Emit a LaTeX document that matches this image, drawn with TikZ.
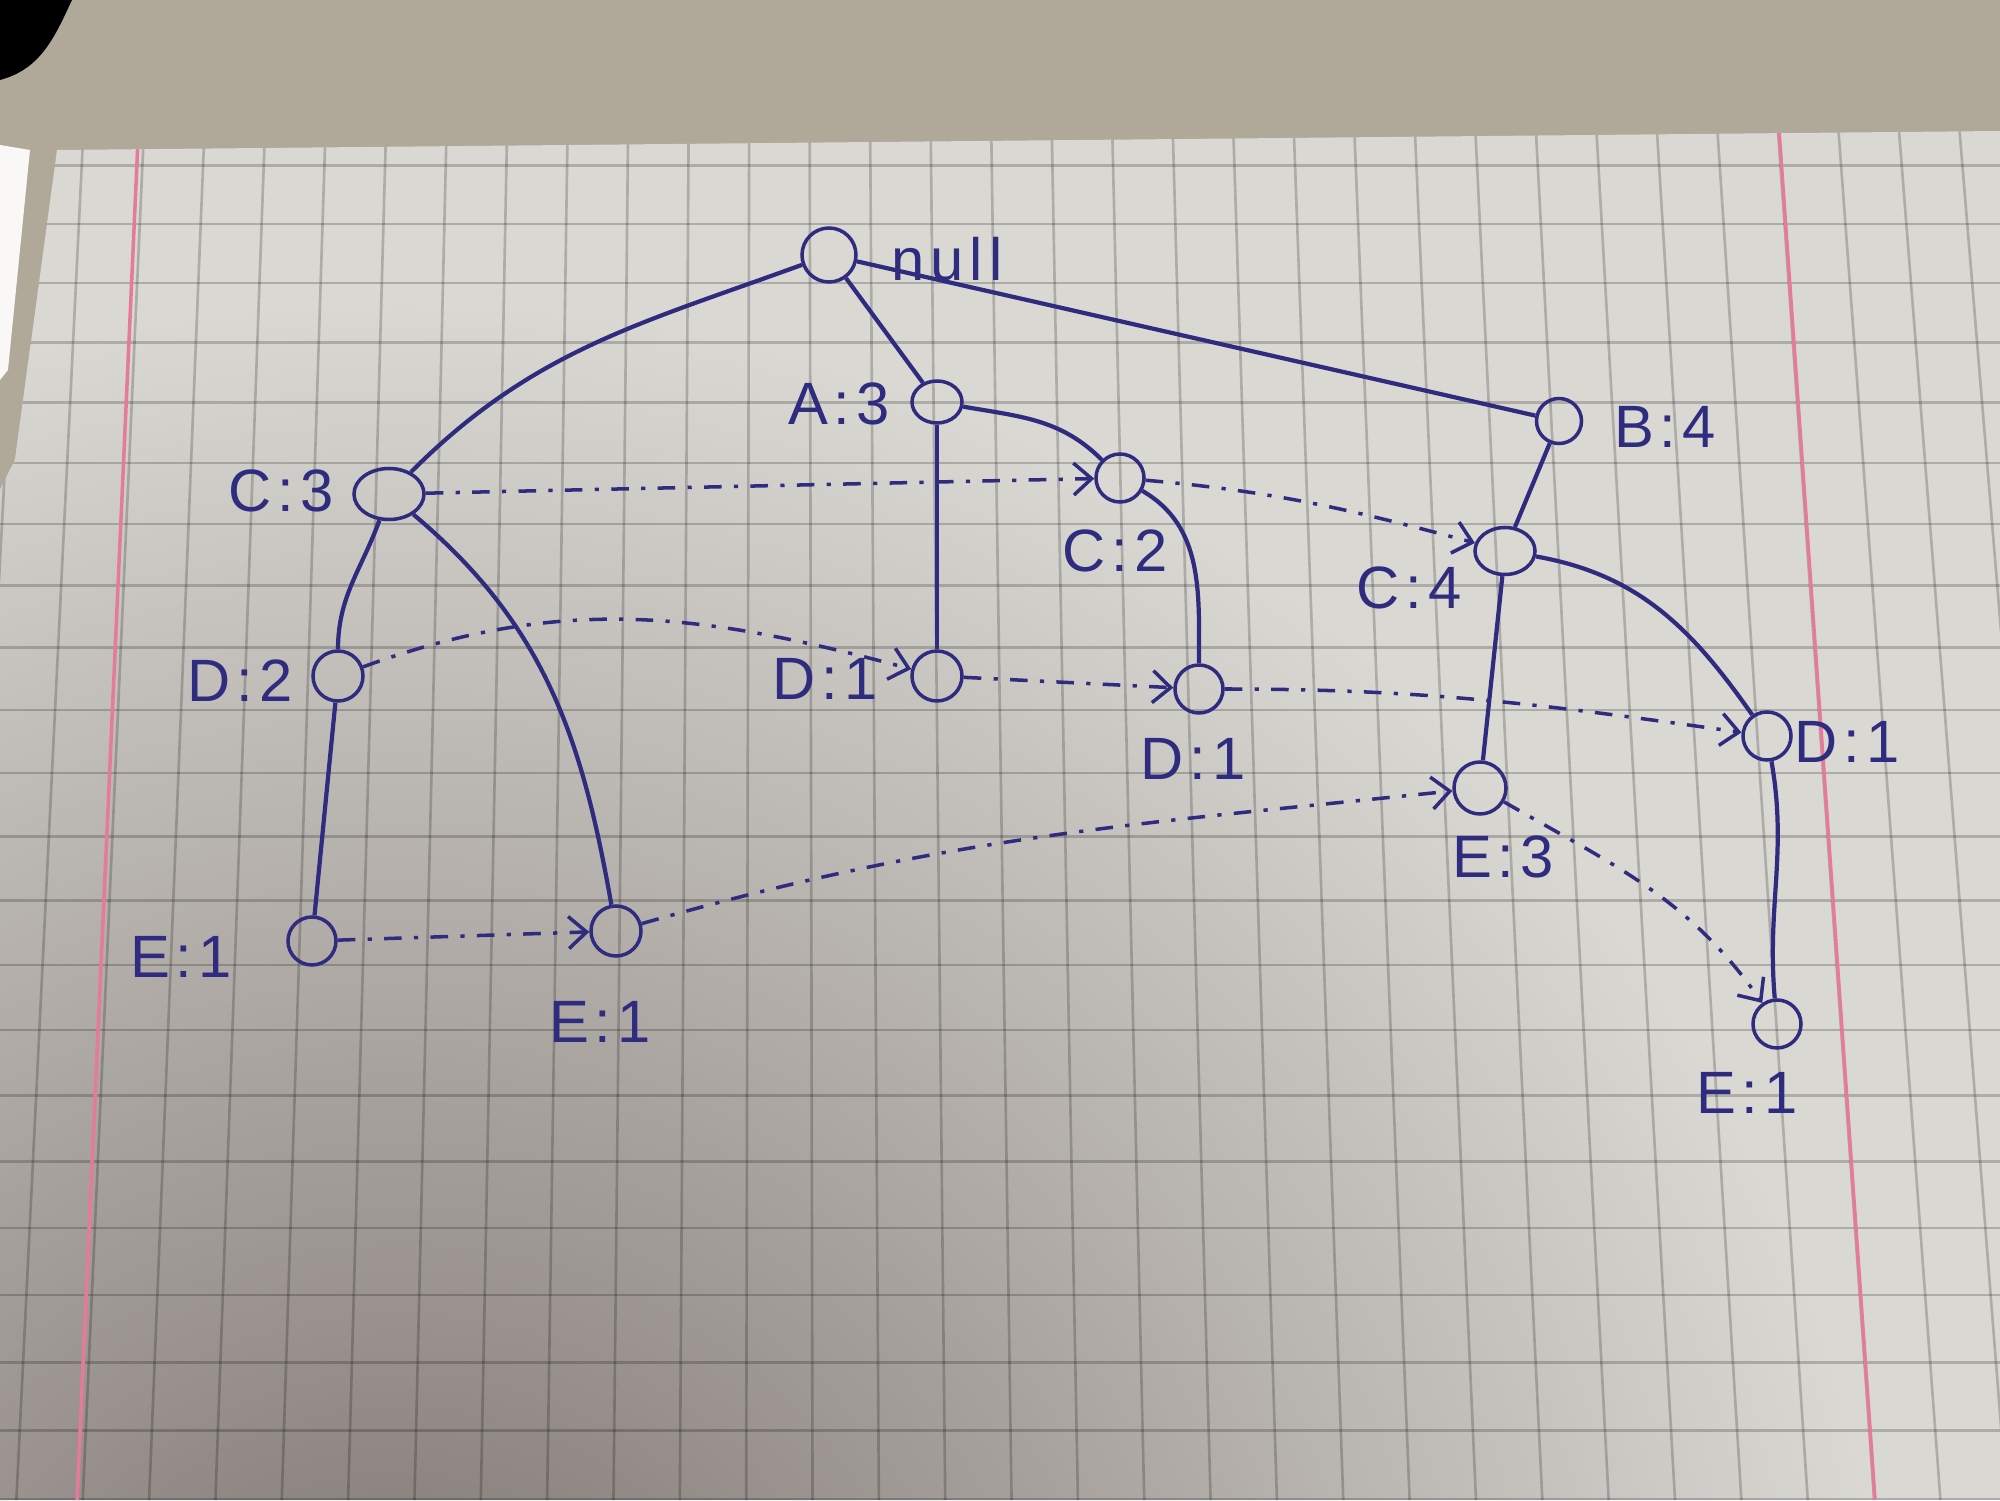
\documentclass[tikz,border=0pt]{standalone}
\usepackage{fontspec}
\newfontfamily\hand[LetterSpace=10]{Liberation Sans}
\usetikzlibrary{arrows.meta,shapes.geometric}
\definecolor{ink}{HTML}{2F2B7E}
\definecolor{paper}{HTML}{D9D8D3}
\definecolor{desk}{HTML}{B0A899}
\definecolor{shadow}{HTML}{7A706D}
\definecolor{margin}{HTML}{E67A9A}

\begin{document}
\begin{tikzpicture}[
				>={Straight Barb[length=1.8mm,width=3.2mm]},
				knot/.style={draw=ink, line width=1pt, circle, inner sep=0pt, minimum size=0.5cm},
				oval/.style={draw=ink, line width=1pt, ellipse, inner sep=0pt},
				lbl/.style={text=ink, inner sep=0pt, font=\hand\fontsize{17}{19}\selectfont},
				branch/.style={draw=ink, line width=1.2pt},
				nodelink/.style={draw=ink, line width=1pt, ->, dash pattern=on 5pt off 3.5pt on 1.2pt off 3.5pt}, % nét gạch chấm nối các nút cùng mục
				gridln/.style={draw=black, opacity=.2, line width=.75pt}
				]
				\useasboundingbox (0,0) rectangle (20,15);
				% nền bàn và giấy kẻ ô
				\fill[desk] (0,0) rectangle (20,15);
				\fill[black] (0,15) -- (0.72,15) to[out=-115,in=15] (0,14.2) -- cycle;
				\fill[white!92!desk] (0,13.55) -- (0.3,13.5) -- (0.08,11.3) -- (0,11.2) -- cycle;
				\begin{scope}
					\clip (0.57,13.5) -- (20,13.69) -- (20,0) -- (0,0) -- (0,10.1) -- (0.15,10.4) -- cycle;
					\fill[paper] (0,0) rectangle (20,15);
					\shade[inner color=shadow, outer color=paper] (4,-3) circle (15); % bóng tối góc dưới trái
					\foreach \j in {0,...,34} {
						\pgfmathsetmacro\xr{-0.468+0.612*\j}
						\draw[gridln] ({\xr-(\xr-7.8)*0.0112},13.7) -- ({\xr+(\xr-7.8)*0.0841},0);
					}
					\foreach \k in {0,...,23} {
						\pgfmathsetmacro\yy{13.3455-0.5825*\k-0.0025*\k*\k}
						\draw[gridln] (0,\yy) -- (20,\yy);
					}
					\draw[margin, line width=1pt] (1.38,13.6) -- (0.77,0);
					\draw[margin, line width=1pt] (17.79,13.7) -- (18.75,0);
				\end{scope}

				% các nút của cây
				\node[knot, minimum size=0.54cm] (nul) at (8.29,12.45) {};
				\node[oval, minimum width=0.5cm, minimum height=0.42cm] (a3) at (9.37,10.98) {};
				\node[knot, minimum size=0.45cm] (b4) at (15.59,10.79) {};
				\node[oval, minimum width=0.7cm, minimum height=0.51cm] (c3) at (3.89,10.06) {};
				\node[knot, minimum size=0.48cm] (c2) at (11.20,10.22) {};
				\node[oval, minimum width=0.6cm, minimum height=0.47cm] (c4) at (15.05,9.49) {};
				\node[knot] (d2) at (3.38,8.24) {};
				\node[knot] (d1a) at (9.37,8.24) {};
				\node[knot, minimum size=0.48cm] (d1b) at (11.99,8.11) {};
				\node[knot, minimum size=0.48cm] (d1c) at (17.67,7.64) {};
				\node[knot, minimum size=0.52cm] (e3) at (14.80,7.12) {};
				\node[knot, minimum size=0.48cm] (e1a) at (3.12,5.59) {};
				\node[knot] (e1b) at (6.16,5.69) {};
				\node[knot, minimum size=0.48cm] (e1c) at (17.77,4.76) {};

				\node[lbl] (lnul) at (9.47,12.41) {null};
				\node[lbl] (la3) at (8.39,10.96) {A:3};
				\node[lbl] (lb4) at (16.65,10.73) {B:4};
				\node[lbl] (lc3) at (2.81,10.09) {C:3};
				\node[lbl] (lc2) at (11.15,9.49) {C:2};
				\node[lbl] (lc4) at (14.09,9.12) {C:4};
				\node[lbl] (ld2) at (2.40,8.19) {D:2};
				\node[lbl] (ld1a) at (8.25,8.21) {D:1};
				\node[lbl] (ld1b) at (11.93,7.41) {D:1};
				\node[lbl] (ld1c) at (18.47,7.58) {D:1};
				\node[lbl] (le3) at (15.03,6.43) {E:3};
				\node[lbl] (le1a) at (1.81,5.43) {E:1};
				\node[lbl] (le1b) at (6.00,4.78) {E:1};
				\node[lbl] (le1c) at (17.47,4.07) {E:1};

				% cạnh cha - con
				\draw[branch] (nul) to[out=200,in=45] (c3);
				\draw[branch] (nul) -- (a3);
				\draw[branch] (nul) -- (b4);
				\draw[branch] (a3) to[out=-10,in=135] (c2);
				\draw[branch] (a3) -- (d1a);
				\draw[branch] (c2) to[out=-30,in=90] (d1b);
				\draw[branch] (b4) -- (c4);
				\draw[branch] (c4) -- (e3);
				\draw[branch] (c4) to[out=-10,in=125] (d1c);
				\draw[branch] (d1c) to[out=-80,in=95] (e1c);
				\draw[branch] (c3) to[out=-110,in=90] (d2);
				\draw[branch] (d2) -- (e1a);
				\draw[branch] (c3) to[out=-40,in=100] (e1b);

				% liên kết giữa các nút cùng mục
				\draw[nodelink] (c3) -- (c2);
				\draw[nodelink] (c2) to[out=-5,in=165] (c4);
				\draw[nodelink] (d2) to[out=20,in=165] (d1a);
				\draw[nodelink] (d1a) -- (d1b);
				\draw[nodelink] (d1b) to[out=0,in=172] (d1c);
				\draw[nodelink] (e1a) -- (e1b);
				\draw[nodelink] (e1b) to[out=16,in=186] (e3);
				\draw[nodelink] (e3) to[out=-30,in=125] (e1c);
			\end{tikzpicture}
\end{document}
